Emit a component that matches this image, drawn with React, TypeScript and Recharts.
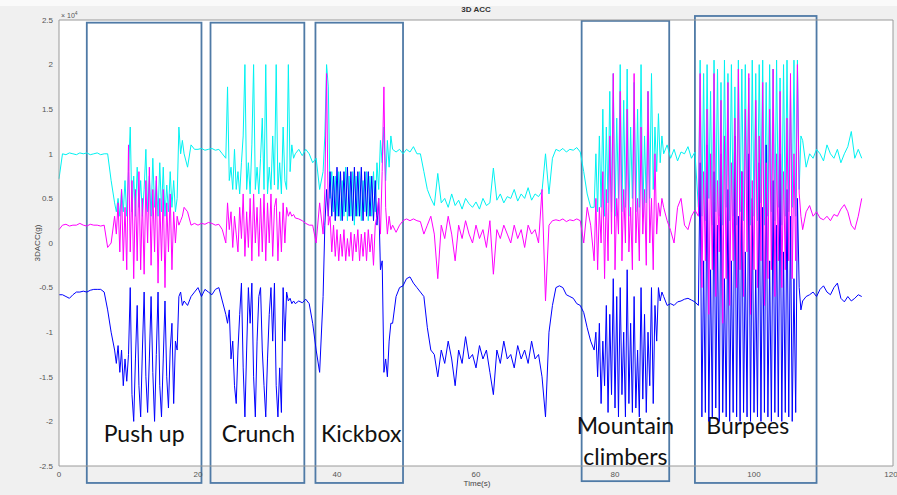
import { LineChart, Line, XAxis, YAxis, CartesianGrid, ReferenceArea } from "recharts";

// sample grid: 0.5 s while resting, 0.25 s during the exercises
const sampling = [
  { start: 0, step: 0.5, count: 16 },
  { start: 8, step: 0.25, count: 40 }, // push up
  { start: 18, step: 0.5, count: 12 },
  { start: 24, step: 0.25, count: 40 }, // crunch
  { start: 34, step: 0.5, count: 8 },
  { start: 38, step: 0.25, count: 40 }, // kickbox
  { start: 48, step: 0.5, count: 58 },
  { start: 77, step: 0.25, count: 40 }, // mountain climbers
  { start: 87, step: 0.5, count: 10 },
  { start: 92, step: 0.25, count: 60 }, // burpees
  { start: 107, step: 0.5, count: 18 },
];

// cyan trace (x 1e4)
const accX = [
  0.72, 1.0, 0.99, 1.01, 1.0, 0.99, 1.01, 1.0, 1.01, 0.99, 1.0, 1.01, 0.99, 1.0, 1.0, 0.7,
  // push up
  0.45, 0.35, 0.5, 0.3, 0.6, 0.35, 0.7, 0.3, 0.8, 1.3, 0.35, 0.75, 0.3, 0.85, 0.4, 0.7,
  0.3, 0.6, 1.05, 0.35, 0.75, 0.3, 0.95, 0.4, 0.7, 0.3, 0.9, 0.35, 0.85, 0.3, 0.65, 0.35,
  0.8, 0.4, 0.7, 0.35, 0.5, 1.3, 1.0, 1.15,
  1.0, 0.85, 1.1, 1.05, 1.05, 1.06, 1.04, 1.05, 1.06, 1.04, 1.05, 1.0,
  // crunch
  0.95, 1.75, 0.7, 0.85, 0.6, 1.05, 0.6, 0.8, 0.55, 0.9, 1.2, 2.0, 0.6, 0.9, 0.55, 1.1,
  2.0, 0.6, 0.85, 0.55, 0.95, 1.4, 0.6, 2.0, 0.55, 0.85, 0.6, 1.2, 0.65, 2.0, 0.6, 0.9,
  0.55, 1.3, 0.7, 0.6, 2.0, 0.8, 1.1, 0.95,
  1.0, 1.05, 0.98, 1.05, 1.0, 0.9, 0.95, 0.6,
  // kickbox
  0.8, 1.2, 2.0, 1.75, 0.5, 0.8, 0.35, 0.75, 0.3, 0.8, 0.25, 0.7, 0.3, 0.85, 0.25, 0.75,
  0.3, 0.8, 0.2, 0.75, 0.3, 0.8, 0.25, 0.7, 0.35, 0.8, 0.25, 0.75, 0.3, 0.8, 0.35, 0.9,
  0.6, 1.15, 0.9, 1.3, 0.7, 1.15, 0.85, 1.2,
  1.05, 1.02, 1.05, 1.0,
  1.05, 1.02, 1.08, 1.0, 1.0, 0.8, 0.6, 0.5, 0.42, 0.78,
  0.45, 0.5, 0.4, 0.55, 0.42, 0.48, 0.38, 0.5, 0.44, 0.4,
  0.46, 0.38, 0.5, 0.42, 0.45, 0.84, 0.48, 0.55, 0.45, 0.52,
  0.5, 0.6, 0.47, 0.55, 0.5, 0.62, 0.48, 0.55, 0.52, 0.58,
  1.0, 0.55, 0.95, 1.05, 1.03, 1.06, 1.02, 1.05, 1.04, 1.07,
  1.02, 0.8, 0.55, 0.4,
  // mountain climbers
  0.4, 1.0, 0.35, 1.2, 0.4, 1.5, 0.3, 1.3, 0.45, 1.7, 0.35, 1.9, 0.3, 1.4, 0.5, 2.0,
  0.35, 1.6, 0.4, 1.95, 0.3, 1.3, 0.5, 1.8, 0.35, 1.5, 0.4, 2.0, 0.3, 1.2, 0.45, 1.7,
  0.5, 1.9, 0.6, 1.3, 0.8, 1.45, 0.9, 1.2,
  1.0, 1.1, 0.95, 1.05, 0.92, 1.02, 1.0, 1.08, 0.95, 1.02,
  // burpees
  0.4, 2.05, 0.3, 1.9, 0.25, 2.0, 0.5, 1.7, 0.2, 2.05, 0.35, 1.95, 0.3, 1.8, 0.2, 2.05,
  0.4, 1.9, 0.25, 2.0, 0.3, 1.75, 0.2, 2.05, 0.35, 1.95, 0.25, 2.0, 0.4, 1.85, 0.2, 2.05,
  0.3, 1.9, 0.25, 2.0, 0.45, 2.05, 0.2, 1.8, 0.3, 2.0, 0.35, 1.95, 0.25, 2.05, 0.4, 1.85,
  0.2, 2.0, 0.3, 2.05, 0.35, 1.7, 0.4, 2.05, 0.3, 2.05, 0.6, 1.2,
  1.15, 0.85, 1.0, 0.95, 1.05, 1.0, 0.92, 1.1, 1.0, 0.95, 1.05, 0.9, 1.0, 1.08, 1.25, 0.95, 1.05, 0.95,
];

// magenta trace (x 1e4)
const accY = [
  0.15, 0.2, 0.21, 0.19, 0.2, 0.2, 0.22, 0.2, 0.19, 0.21, 0.2, 0.2, 0.19, 0.2, -0.05, 0.0,
  // push up
  0.3, 0.1, 0.45, -0.1, 0.6, -0.2, 0.4, -0.3, 1.1, -0.1, 0.7, -0.4, 0.6, -0.2, 0.8, -0.3,
  0.5, -0.35, 0.7, 0.0, 0.85, -0.25, 0.6, -0.1, 0.75, -0.45, 0.5, -0.2, 0.6, -0.5, 0.45, -0.1,
  0.55, -0.3, 0.35, 0.0, 0.3, 0.2, 0.25, 0.3,
  0.4, 0.35, 0.2, 0.22, 0.2, 0.22, 0.21, 0.23, 0.22, 0.2, 0.21, 0.15,
  // crunch
  0.0, 0.45, 0.15, 0.35, -0.05, 0.3, 0.1, -0.1, 0.4, 0.05, 0.55, -0.15, 0.35, -0.05, 0.5, -0.2,
  0.55, 0.0, 0.4, -0.15, 0.5, -0.1, 0.55, -0.2, 0.45, 0.0, 0.55, -0.15, 0.4, 0.5, -0.2, 0.35,
  -0.1, 0.45, 0.0, 0.4, 0.3, 0.35, 0.3, 0.32,
  0.28, 0.27, 0.25, 0.22, 0.2, 0.2, 0.0, 0.45,
  // kickbox
  0.1, 0.6, 1.9, 0.2, 0.3, -0.1, 0.2, -0.15, 0.15, -0.2, 0.1, -0.15, 0.15, -0.2, 0.05, -0.15,
  0.12, -0.2, 0.1, -0.1, 0.15, -0.2, 0.1, -0.15, 0.12, -0.2, 0.15, -0.1, 0.1, -0.25, 0.2, 0.3,
  0.5, 0.1, 0.8, 1.75, 0.4, 0.1, 0.3, 0.15,
  0.2, 0.12, 0.2, 0.25,
  0.27, 0.25, 0.27, 0.25, 0.24, 0.1, 0.2, 0.3, 0.1, -0.4,
  0.2, 0.05, 0.3, 0.1, -0.2, 0.2, 0.05, 0.25, 0.1, 0.0,
  0.2, 0.05, 0.15, -0.05, 0.25, -0.35, 0.15, 0.05, 0.2, 0.1,
  0.0, 0.2, 0.05, 0.15, -0.05, 0.2, 0.1, 0.15, 0.0, 0.6,
  -0.65, 0.2, 0.25, 0.26, 0.25, 0.27, 0.24, 0.26, 0.25, 0.27,
  0.25, 0.0, 0.4, 0.2,
  // mountain climbers
  -0.2, 0.5, -0.3, 0.4, 0.0, 0.8, -0.4, 0.6, -0.2, 1.2, 0.1, 1.9, -0.3, 0.5, 0.1, 1.7,
  -0.2, 0.6, 0.0, 1.5, -0.1, 0.4, -0.3, 1.9, 0.0, 0.5, -0.2, 1.3, 0.1, 0.6, -0.25, 1.7,
  0.0, 0.5, -0.3, 1.0, 0.1, 0.45, 0.3, 0.5,
  0.4, 0.25, 0.14, 0.0, 0.4, 0.5, 0.2, 0.15, 0.3, 0.37,
  // burpees
  0.3, 1.9, -0.5, 0.8, -0.2, 1.5, -0.8, 1.0, -0.3, 1.9, -0.6, 0.7, -0.1, 1.6, -0.9, 1.2,
  -0.4, 1.8, -0.7, 0.9, -0.2, 1.4, -0.5, 1.95, -0.3, 0.8, -0.6, 1.5, -0.1, 1.9, -0.8, 0.7,
  -0.3, 1.6, -0.5, 1.2, -0.2, 1.8, -0.7, 0.9, -0.4, 1.5, -0.3, 1.95, -0.6, 1.0, -0.2, 1.7,
  -0.5, 0.8, -0.3, 1.4, -0.2, 1.9, -0.4, 1.0, -0.2, 2.0, 0.56, 0.3,
  0.15, 0.35, 0.42, 0.3, 0.35, 0.28, 0.26, 0.3, 0.25, 0.32, 0.3, 0.38, 0.43, 0.35, 0.2, 0.15, 0.3, 0.5,
];

// blue trace (x 1e4)
const accZ = [
  -0.58, -0.58, -0.6, -0.62, -0.58, -0.55, -0.55, -0.54, -0.55, -0.53, -0.52, -0.52, -0.52, -0.55, -0.75, -1.0,
  // push up
  -1.2, -1.35, -1.15, -1.45, -1.2, -1.6, -1.3, -1.55, -1.25, -0.5, -1.7, -2.0, -1.3, -0.7, -1.6, -1.95,
  -1.2, -0.55, -1.5, -1.9, -1.3, -0.6, -1.45, -2.0, -1.25, -0.55, -1.6, -1.95, -1.3, -0.65, -1.5, -1.85,
  -1.2, -0.9, -1.8, -1.1, -1.2, -0.6, -0.55, -0.7,
  -0.65, -0.7, -0.6, -0.55, -0.5, -0.6, -0.52, -0.55, -0.58, -0.52, -0.5, -0.65,
  // crunch
  -0.8, -0.9, -0.75, -1.3, -1.1, -1.6, -1.8, -1.2, -0.8, -0.45, -1.4, -1.95, -1.2, -0.5, -0.9, -0.45,
  -1.5, -1.95, -1.1, -0.6, -0.5, -1.2, -1.6, -1.95, -1.3, -0.8, -0.5, -1.1, -0.45, -1.6, -1.95, -1.4,
  -1.9, -0.5, -1.1, -0.55, -0.65, -0.62, -0.68, -0.65,
  -0.68, -0.65, -0.67, -0.63, -0.68, -0.9, -1.2, -1.45,
  // kickbox
  -0.6, 0.2, 0.6, 0.3, 0.8, 0.3, 0.75, 0.25, 0.85, 0.3, 0.8, 0.25, 0.8, 0.35, 0.85, 0.3,
  0.8, 0.25, 0.85, 0.3, 0.8, 0.3, 0.85, 0.25, 0.8, 0.3, 0.8, 0.3, 0.75, 0.25, 0.7, 0.2,
  0.5, -0.3, -0.2, -1.45, -1.3, -1.5, -1.1, -0.9,
  -0.9, -0.6, -0.5, -0.48,
  -0.4, -0.38, -0.45, -0.5, -0.55, -0.6, -0.95, -1.2, -1.25, -1.5,
  -1.2, -1.35, -1.1, -1.3, -1.6, -1.2, -1.35, -1.05, -1.3, -1.25,
  -1.4, -1.15, -1.3, -1.2, -1.45, -1.7, -1.2, -1.35, -1.1, -1.3,
  -1.25, -1.4, -1.15, -1.3, -1.2, -1.35, -1.1, -1.3, -1.25, -1.5,
  -1.95, -1.0, -0.7, -0.5, -0.48, -0.5, -0.58, -0.6, -0.62, -0.68,
  -0.7, -0.78, -0.95, -1.1,
  // mountain climbers
  -1.2, -1.0, -1.5, -0.9, -1.8, -1.1, -1.6, -0.7, -1.9, -0.8, -1.7, -0.4, -1.85, -0.6, -1.95, -0.5,
  -1.7, -1.0, -1.95, -0.3, -1.8, -0.9, -1.9, -0.6, -1.85, -1.2, -1.95, -0.5, -1.75, -0.8, -1.9, -1.0,
  -1.6, -0.5, -1.8, -0.7, -1.1, -0.5, -0.65, -0.55,
  -0.6, -0.7, -0.68, -0.7, -0.66, -0.65, -0.63, -0.62, -0.64, -0.66,
  // burpees
  -0.7, 0.9, -1.95, -0.2, -1.9, 1.1, -2.0, -0.3, -1.95, 0.8, -1.85, 0.2, -2.0, 1.0, -1.9, -0.4,
  -1.95, 0.6, -2.0, -0.2, -1.9, 1.2, -1.95, 0.3, -2.0, 0.8, -1.9, -0.1, -1.95, 1.0, -2.0, 0.5,
  -1.9, -0.3, -1.95, 0.9, -2.0, 0.4, -1.9, 1.1, -1.95, -0.2, -2.0, 0.7, -1.9, 0.2, -1.95, 1.0,
  -2.0, -0.1, -1.9, 0.6, -1.95, 0.3, -2.0, -0.4, -1.9, 0.5, -0.5, -0.75,
  -0.65, -0.6, -0.58, -0.55, -0.6, -0.52, -0.48, -0.55, -0.58, -0.5, -0.45, -0.62, -0.66, -0.6, -0.65, -0.62, -0.58, -0.6,
];

const timeTicks = [0, 20, 40, 60, 80, 100, 120];
const accTicks = [-2.5, -2, -1.5, -1, -0.5, 0, 0.5, 1, 1.5, 2, 2.5];

// exercise boxes drawn over the plot (seconds / 1e4 units)
const activities = [
  { lines: ["Push up"], start: 4.0, end: 20.5, top: 2.47, bottom: -2.69, rise: [50], dx: 0 },
  { lines: ["Crunch"], start: 21.8, end: 35.3, top: 2.47, bottom: -2.69, rise: [50], dx: 1 },
  { lines: ["Kickbox"], start: 36.9, end: 49.5, top: 2.47, bottom: -2.69, rise: [50], dx: 2 },
  { lines: ["Mountain", "climbers"], start: 75.2, end: 87.8, top: 2.49, bottom: -2.67, rise: [56, 25], dx: 0 },
  { lines: ["Burpees"], start: 91.5, end: 109.0, top: 2.545, bottom: -2.69, rise: [58], dx: -8 },
];

const time: number[] = [];
sampling.forEach((s) => {
  for (let i = 0; i < s.count; i++) time.push(s.start + i * s.step);
});

const data = time.map((t, i) => ({ t, x: accX[i], y: accY[i], z: accZ[i] }));

const tickFont = { fontSize: 8, fill: "#555", fontFamily: "Liberation Sans, Arial, sans-serif" };

function ActivityBox(props: any) {
  const { x, y, width, height, act } = props;
  const cx = x + width / 2 + act.dx;
  return (
    <g>
      <rect x={x} y={y} width={width} height={height} fill="none" stroke="#4f7aa6" strokeWidth={1.8} />
      {act.lines.map((ln: string, i: number) => (
        <text
          key={ln}
          x={cx}
          y={y + height - act.rise[i]}
          textAnchor="middle"
          dominantBaseline="central"
          fontFamily="Lato, 'Open Sans', sans-serif"
          fontSize={23}
          fill="#111"
        >
          {ln}
        </text>
      ))}
    </g>
  );
}

export default function App() {
  return (
    <div style={{ position: "absolute", left: 0, top: 0, width: 897, height: 495, background: "#f0f0f0", overflow: "hidden" }}>
      <div style={{ position: "absolute", left: 0, top: 0, width: 897, height: 6, background: "#fafafa" }} />
      <LineChart
        width={897}
        height={495}
        data={data}
        margin={{ top: 20, right: 4, bottom: 0, left: 0 }}
      >
        <CartesianGrid horizontal={false} vertical={false} fill="#ffffff" xAxisId="t" yAxisId="v" />
        <XAxis
          xAxisId="t"
          dataKey="t"
          type="number"
          domain={[0, 120]}
          ticks={timeTicks}
          height={29}
          tickSize={0}
          tickMargin={5}
          tick={tickFont}
          axisLine={{ stroke: "#9a9a9a" }}
        />
        <XAxis
          xAxisId="tIn"
          dataKey="t"
          type="number"
          domain={[0, 120]}
          ticks={timeTicks}
          mirror
          tick={false}
          tickSize={5}
          tickLine={{ stroke: "#777" }}
          axisLine={false}
        />
        <XAxis
          xAxisId="tTop"
          dataKey="t"
          type="number"
          domain={[0, 120]}
          ticks={timeTicks}
          orientation="top"
          mirror
          tick={false}
          tickSize={5}
          tickLine={{ stroke: "#777" }}
          axisLine={{ stroke: "#9a9a9a" }}
        />
        <YAxis
          yAxisId="v"
          type="number"
          domain={[-2.5, 2.5]}
          ticks={accTicks}
          width={59}
          tickSize={0}
          tickMargin={6}
          tick={tickFont}
          axisLine={{ stroke: "#9a9a9a" }}
        />
        <YAxis
          yAxisId="vIn"
          type="number"
          domain={[-2.5, 2.5]}
          ticks={accTicks}
          mirror
          tick={false}
          tickSize={5}
          tickLine={{ stroke: "#777" }}
          axisLine={false}
        />
        <YAxis
          yAxisId="vRight"
          type="number"
          domain={[-2.5, 2.5]}
          ticks={accTicks}
          orientation="right"
          mirror
          tick={false}
          tickSize={5}
          tickLine={{ stroke: "#777" }}
          axisLine={{ stroke: "#9a9a9a" }}
        />
        <Line xAxisId="t" yAxisId="v" type="linear" dataKey="x" stroke="#00f2f2" strokeWidth={1} dot={false} isAnimationActive={false} />
        <Line xAxisId="t" yAxisId="v" type="linear" dataKey="z" stroke="#0000ff" strokeWidth={1} dot={false} isAnimationActive={false} />
        <Line xAxisId="t" yAxisId="v" type="linear" dataKey="y" stroke="#ff00ff" strokeWidth={1} dot={false} isAnimationActive={false} />
        {activities.map((a) => (
          <ReferenceArea
            key={a.lines[0]}
            xAxisId="t"
            yAxisId="v"
            x1={a.start}
            x2={a.end}
            y1={a.bottom}
            y2={a.top}
            ifOverflow="visible"
            shape={(p: any) => <ActivityBox {...p} act={a} />}
          />
        ))}
      </LineChart>
      <div style={{ position: "absolute", left: 0, width: 952, top: 5, textAlign: "center", font: "bold 8px 'Liberation Sans', Arial, sans-serif", color: "#333" }}>
        3D ACC
      </div>
      <div style={{ position: "absolute", left: 61, top: 10, font: "7px 'Liberation Sans', Arial, sans-serif", color: "#555" }}>
        × 10<sup style={{ fontSize: 5 }}>4</sup>
      </div>
      <div style={{ position: "absolute", left: 37, top: 243, transform: "translate(-50%, -50%) rotate(-90deg)", font: "8px 'Liberation Sans', Arial, sans-serif", color: "#444", whiteSpace: "nowrap" }}>
        3DACC(g)
      </div>
      <div style={{ position: "absolute", left: 0, width: 954, top: 479, textAlign: "center", font: "8px 'Liberation Sans', Arial, sans-serif", color: "#444" }}>
        Time(s)
      </div>
    </div>
  );
}
